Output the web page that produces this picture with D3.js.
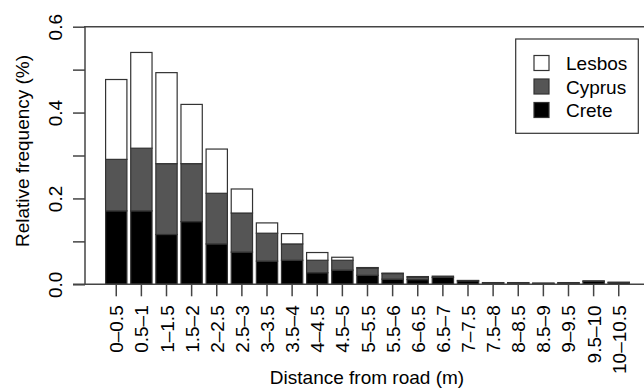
<!DOCTYPE html>
<html>
<head>
<meta charset="utf-8">
<script src="https://cdn.jsdelivr.net/npm/d3@7"></script>
<style>
  body { margin: 0; background: #fff; }
  svg text { font-family: "Liberation Sans", Arial, sans-serif; fill: #000; }
</style>
</head>
<body>
<div id="chart"></div>
<script>
// categories (distance bins)
const bins = ['0\u20130.5', '0.5\u20131', '1\u20131.5', '1.5\u20132', '2\u20132.5', '2.5\u20133', '3\u20133.5', '3.5\u20134',
  '4\u20134.5', '4.5\u20135', '5\u20135.5', '5.5\u20136', '6\u20136.5', '6.5\u20137', '7\u20137.5', '7.5\u20138',
  '8\u20138.5', '8.5\u20139', '9\u20139.5', '9.5\u201310', '10\u201310.5'];

// values per island (stacked: Crete bottom, Cyprus middle, Lesbos top)
const crete  = [0.171, 0.171, 0.116, 0.146, 0.094, 0.075, 0.054, 0.056, 0.027, 0.033, 0.021, 0.012, 0.011, 0.016, 0.008, 0.003, 0.003, 0.002, 0.003, 0.007, 0.004];
const cyprus = [0.120, 0.146, 0.165, 0.135, 0.118, 0.091, 0.065, 0.038, 0.029, 0.023, 0.017, 0.013, 0.006, 0.003, 0.001, 0.001, 0.001, 0.001, 0.001, 0.001, 0.001];
const lesbos = [0.186, 0.223, 0.212, 0.138, 0.103, 0.056, 0.024, 0.024, 0.018, 0.007, 0.001, 0.001, 0.001, 0.000, 0.000, 0.000, 0.000, 0.000, 0.000, 0.000, 0.000];

const yTicks = [0, 0.1, 0.2, 0.3, 0.4, 0.5, 0.6];

const series = [
  { name: 'Crete', values: crete, fill: '#000000' },
  { name: 'Cyprus', values: cyprus, fill: '#555555' },
  { name: 'Lesbos', values: lesbos, fill: '#ffffff' }
];

const width = 644, height = 389;
const plot = { left: 85, right: 650, top: 26.7, bottom: 284.3 };

const svg = d3.select('#chart').append('svg')
  .attr('width', width).attr('height', height);

const x = d3.scaleBand()
  .domain(bins)
  .range([plot.left, plot.right])
  .paddingInner(0.152)
  .paddingOuter(0.82);

const y = d3.scaleLinear().domain([0, 0.6]).range([plot.bottom, plot.top]);

const table = bins.map((b, i) => {
  const row = { bin: b };
  series.forEach(s => { row[s.name] = s.values[i]; });
  return row;
});
const stacked = d3.stack().keys(series.map(s => s.name))(table);

// bars
svg.append('g').selectAll('g')
  .data(stacked)
  .enter().append('g')
    .attr('fill', (d, i) => series[i].fill)
  .selectAll('rect')
  .data(d => d)
  .enter().append('rect')
    .attr('x', d => x(d.data.bin))
    .attr('y', d => y(d[1]))
    .attr('width', x.bandwidth())
    .attr('height', d => Math.max(0, y(d[0]) - y(d[1])))
    .attr('stroke', '#333')
    .attr('stroke-width', 1.2);

const axisColor = '#444';

// frame lines: top, left and base
svg.append('line').attr('x1', plot.left - 1).attr('x2', plot.right)
  .attr('y1', plot.top).attr('y2', plot.top)
  .attr('stroke', axisColor).attr('stroke-width', 1.5);
svg.append('line').attr('x1', plot.left).attr('x2', plot.left)
  .attr('y1', plot.top).attr('y2', plot.bottom)
  .attr('stroke', axisColor).attr('stroke-width', 1.5);
svg.append('line').attr('x1', 73).attr('x2', plot.right)
  .attr('y1', plot.bottom).attr('y2', plot.bottom)
  .attr('stroke', axisColor).attr('stroke-width', 1.5);

// y axis
const yAxis = svg.append('g')
  .attr('transform', 'translate(' + plot.left + ',0)')
  .call(d3.axisLeft(y).tickValues(yTicks).tickSize(12).tickSizeOuter(0)
    .tickFormat(d => (Math.round(d * 10) % 2 === 0) ? d3.format('.1f')(d) : ''));
yAxis.select('.domain').remove();
yAxis.selectAll('.tick line').attr('stroke', axisColor).attr('stroke-width', 1.5);
yAxis.selectAll('.tick text')
  .attr('x', 0).attr('dy', 0)
  .attr('transform', 'translate(-23,0) rotate(-90)')
  .style('text-anchor', 'middle')
  .style('font-size', '19px');

// x axis
const xAxis = svg.append('g')
  .attr('transform', 'translate(0,' + plot.bottom + ')')
  .call(d3.axisBottom(x).tickSize(12).tickSizeOuter(0));
xAxis.select('.domain').remove();
xAxis.selectAll('.tick line').attr('stroke', axisColor).attr('stroke-width', 1.5);
xAxis.selectAll('.tick text')
  .attr('x', 0).attr('y', 0).attr('dy', 0)
  .attr('transform', 'translate(7,21) rotate(-90)')
  .style('text-anchor', 'end')
  .style('font-size', '19px');

// axis titles
svg.append('text')
  .attr('x', 367).attr('y', 384)
  .attr('text-anchor', 'middle')
  .style('font-size', '19px')
  .text('Distance from road (m)');

svg.append('text')
  .attr('transform', 'translate(29,151) rotate(-90)')
  .attr('text-anchor', 'middle')
  .style('font-size', '19px')
  .text('Relative frequency (%)');

// legend
const legend = svg.append('g');
legend.append('rect')
  .attr('x', 515.7).attr('y', 39).attr('width', 122.6).attr('height', 94.3)
  .attr('fill', '#fff').attr('stroke', '#333').attr('stroke-width', 1.2);
const legendItems = series.slice().reverse();
legendItems.forEach((s, i) => {
  const cy = 63 + i * 23.5;
  legend.append('rect')
    .attr('x', 534).attr('y', cy - 7.5).attr('width', 15).attr('height', 15)
    .attr('fill', s.fill).attr('stroke', '#333').attr('stroke-width', 1.2);
  legend.append('text')
    .attr('x', 566).attr('y', cy + 7)
    .style('font-size', '19px')
    .text(s.name);
});
</script>
</body>
</html>
